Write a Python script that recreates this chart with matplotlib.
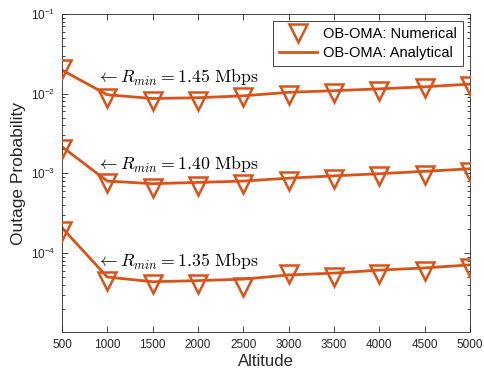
import matplotlib
matplotlib.use("Agg")
import matplotlib.pyplot as plt
import numpy as np

plt.rcParams['font.family'] = ['Liberation Sans', 'DejaVu Sans']

altitude = [500, 1000, 1500, 2000, 2500, 3000, 3500, 4000, 4500, 5000]

num_145 = [0.0204, 0.0088, 0.0082, 0.0082, 0.0090, 0.0097, 0.0103, 0.0109, 0.0117, 0.0125]
ana_145 = [0.0198, 0.0097, 0.0087, 0.0089, 0.0094, 0.0104, 0.0109, 0.0115, 0.0122, 0.0132]

num_140 = [0.00204, 0.000749, 0.00066, 0.00069, 0.00073, 0.00081, 0.00086, 0.00092, 0.00096, 0.00104]
ana_140 = [0.00216, 0.00080, 0.000742, 0.00077, 0.00080, 0.00087, 0.00093, 0.00099, 0.00106, 0.00114]

num_135 = [0.000189, 4.5e-5, 4.07e-5, 4.07e-5, 3.77e-5, 5.5e-5, 4.97e-5, 5.4e-5, 5.9e-5, 6.4e-5]
ana_135 = [0.000208, 5.0e-5, 4.36e-5, 4.5e-5, 4.7e-5, 5.3e-5, 5.6e-5, 6.1e-5, 6.5e-5, 7.1e-5]

labels = [r'$\leftarrow R_{min} = 1.45\ \mathrm{Mbps}$',
          r'$\leftarrow R_{min} = 1.40\ \mathrm{Mbps}$',
          r'$\leftarrow R_{min} = 1.35\ \mathrm{Mbps}$']
label_y = [0.0159, 0.00126, 7.7e-5]

color = '#D95319'
axc = '#262626'

fig = plt.figure(figsize=(4.84, 3.79), dpi=100)
ax = fig.add_axes([0.128, 0.124, 0.843, 0.839])

first = True
for num, ana in [(num_145, ana_145), (num_140, ana_140), (num_135, ana_135)]:
    ax.plot(altitude, num, linestyle='none', marker='v', markersize=12.5,
            markerfacecolor='none', markeredgecolor=color, markeredgewidth=1.8,
            label='OB-OMA: Numerical' if first else None, zorder=3)
    ax.plot(altitude, ana, color=color, linewidth=2,
            label='OB-OMA: Analytical' if first else None, zorder=2)
    first = False

for t, yv in zip(labels, label_y):
    ax.text(880, yv, t, fontsize=12.8, va='center', ha='left',
            math_fontfamily='cm', color='black')

ax.set_yscale('log')
ax.set_xlim(500, 5000)
ax.set_ylim(1.02e-5, 1e-1)
ax.set_xticks(altitude)
ax.set_xticklabels([str(a) for a in altitude])
ax.tick_params(which='both', direction='in', top=True, right=True, colors=axc,
               labelsize=8.5, width=0.6)
ax.tick_params(which='major', length=4, pad=5)
ax.tick_params(which='minor', length=2)
for s in ax.spines.values():
    s.set_color(axc)
    s.set_linewidth(0.6)

ax.set_xlabel('Altitude', fontsize=12, color=axc, labelpad=2)
ax.set_ylabel('Outage Probability', fontsize=12.5, color=axc, labelpad=3)

leg = ax.legend(loc='upper right', fontsize=10.5, frameon=True, fancybox=False,
                edgecolor=axc, framealpha=1, handlelength=2.6, borderpad=0.4,
                labelspacing=0.35, handletextpad=0.4, borderaxespad=0.5)
leg.get_frame().set_linewidth(0.6)

fig.savefig('out.png', dpi=100)
